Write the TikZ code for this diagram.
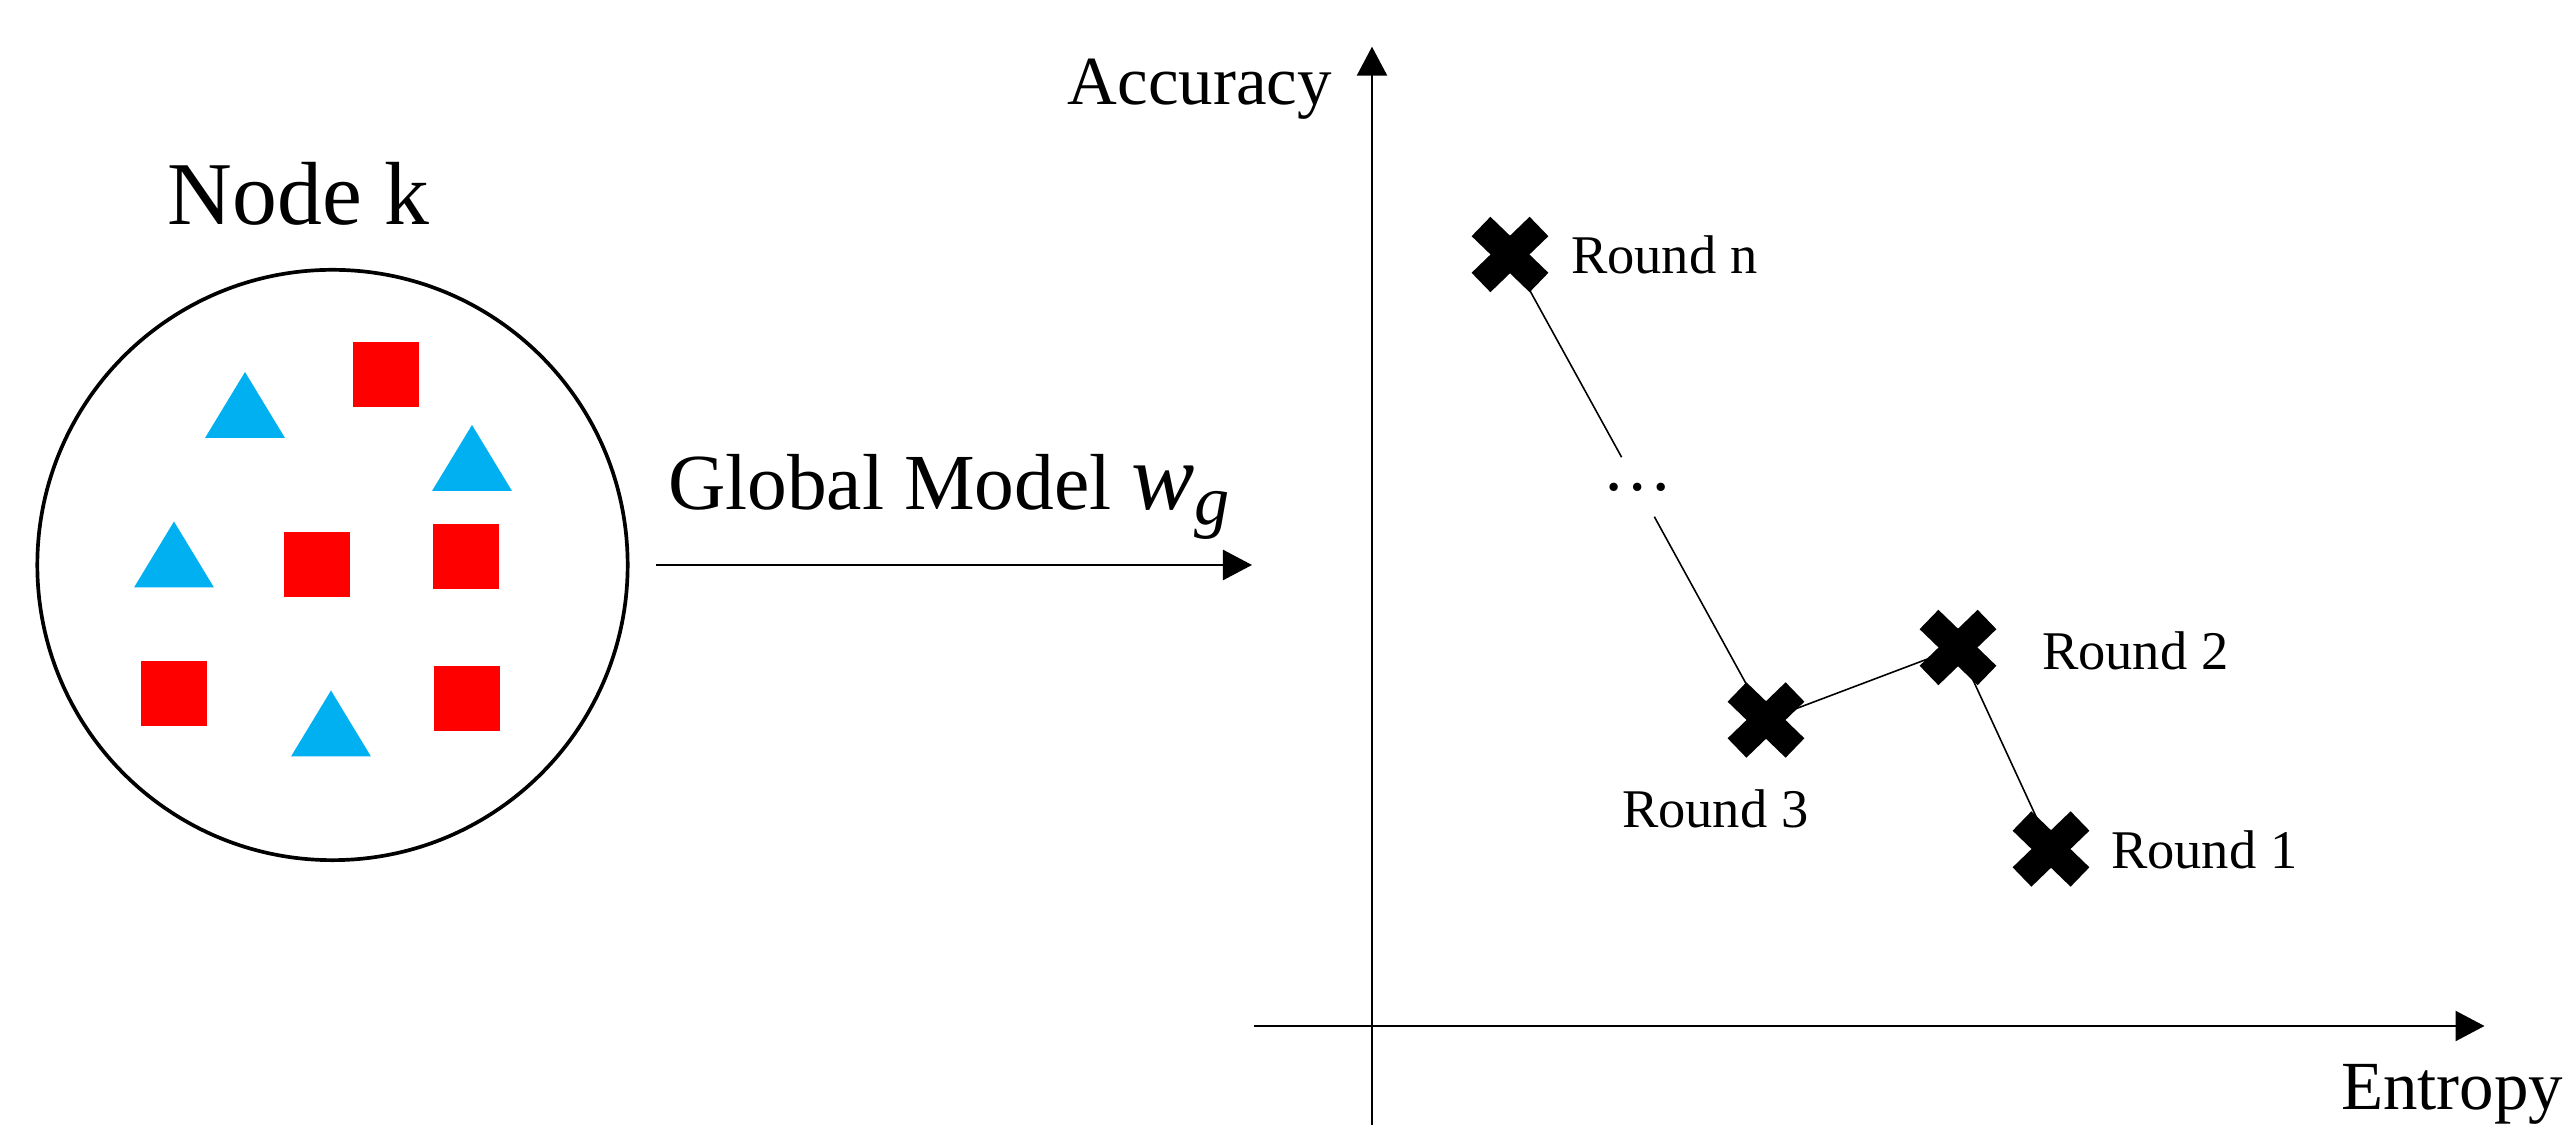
\documentclass[tikz,border=0pt]{standalone}
\usepackage{fontspec}
\setmainfont{Liberation Serif}
\usetikzlibrary{arrows.meta}
\definecolor{triblue}{HTML}{00B0F0}
\definecolor{sqred}{HTML}{FF0000}
\newcommand\redsq[2]{\fill[sqfill] ({#1-33},{#2-32.5}) rectangle ++(66,65);}
\newcommand\bluetri[2]{\fill[trifill] (#1,#2) -- ++(-40,66) -- ++(80,0) -- cycle;}
\begin{document}
\begin{tikzpicture}[x=0.01cm,y=-0.01cm,
  lbl/.style={inner sep=0pt, outer sep=0pt},
  arr/.style={line width=0.7pt, -{Triangle[length=0.29cm,width=0.30cm]}},
  link/.style={line width=0.45pt},
  xbar/.style={line width=0.27cm, line cap=butt},
  sqfill/.style={fill=sqred},
  trifill/.style={fill=triblue},
  xcross/.pic={\draw[xbar] (-29,-28) -- (29,28); \draw[xbar] (-29,28) -- (29,-28);}]
\path[use as bounding box] (0,0) rectangle (2568,1125);

% left: node k
\node[lbl, anchor=base] (title) at (298.7,224.6) {\fontsize{25.5}{30}\selectfont Node k};
\node[circle, draw, line width=1.05pt, minimum size=5.9cm, inner sep=0pt] (nodek) at (332.5,565) {};
\redsq{386}{374.6}
\redsq{316.5}{565}
\redsq{466.3}{556.6}
\redsq{174}{693.4}
\redsq{467.4}{698.2}
\bluetri{245}{372}
\bluetri{472}{425}
\bluetri{174}{521.5}
\bluetri{331}{690.5}

% global model arrow
\coordinate (gs) at (656,565);
\coordinate (ge) at (1252,565);
\draw[arr] (gs) -- (ge);
\node[lbl, anchor=base west] (gm) at (668,510) {\fontsize{22.6}{27}\selectfont Global Model {\fontsize{27}{30}\selectfont\textit{w}}\raisebox{-4.1pt}{\fontsize{20}{24}\selectfont\textit{g}}};

% axes
\coordinate (yb) at (1372,1125);
\coordinate (yt) at (1372,46.7);
\coordinate (xl) at (1254,1026);
\coordinate (xr) at (2484.5,1026);
\draw[arr] (yb) -- (yt);
\draw[arr] (xl) -- (xr);
\node[lbl, anchor=base east] (acc) at (1332,105) {\fontsize{19.6}{24}\selectfont Accuracy};
\node[lbl, anchor=base west] (ent) at (2341,1110) {\fontsize{19.6}{24}\selectfont Entropy};

% rounds
\node[coordinate] (rn) at (1510,254.5) {};
\node[coordinate] (r3) at (1766,720) {};
\node[coordinate] (r2) at (1958,647.5) {};
\node[coordinate] (r1) at (2051,849) {};
\node[inner sep=0pt, minimum height=0.58cm, minimum width=0.2cm] (dots) at (1638,487) {\fontsize{20}{24}\selectfont …};
\draw[link] (rn) -- (dots);
\draw[link] (dots) -- (r3);
\draw[link] (r3) -- (r2) -- (r1);
\pic at (rn) {xcross};
\pic at (r3) {xcross};
\pic at (r2) {xcross};
\pic at (r1) {xcross};
\node[lbl, anchor=base west] (lrn) at (1571,273.7) {\fontsize{15.5}{19}\selectfont Round n};
\node[lbl, anchor=base west] (lr3) at (1622,827.7) {\fontsize{15.5}{19}\selectfont Round 3};
\node[lbl, anchor=base west] (lr2) at (2042,670) {\fontsize{15.5}{19}\selectfont Round 2};
\node[lbl, anchor=base west] (lr1) at (2111,868.3) {\fontsize{15.5}{19}\selectfont Round 1};
\end{tikzpicture}
\end{document}
